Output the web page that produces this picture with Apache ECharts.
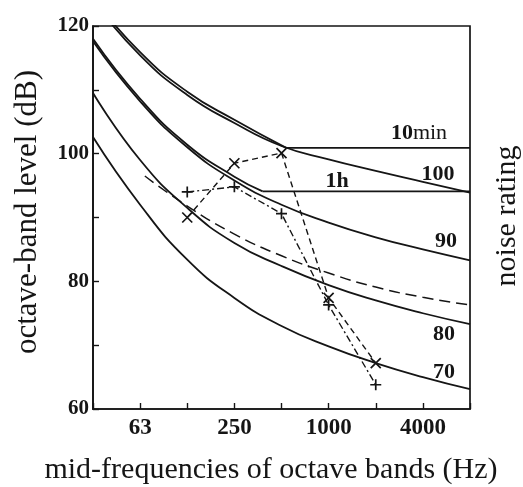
<!DOCTYPE html>
<html><head><meta charset="utf-8">
<script src="https://cdn.jsdelivr.net/npm/echarts@6/dist/echarts.min.js"></script>
<style>html,body{margin:0;padding:0;background:#fff}#c{width:523px;height:487px}</style>
</head><body><div id="c"></div>
<script>
// Octave bands (index on the x axis): 31.5, 63, 125, 250, 500, 1000, 2000, 4000, 8000 Hz
const bandHz = ['31.5', '63', '125', '250', '500', '1000', '2000', '4000', '8000'];
const bandIndex = [0, 1, 2, 3, 4, 5, 6, 7, 8];
const xTickLabels = ['', '63', '', '250', '', '1000', '', '4000', ''];
const yTickLabels = {60: '60', 80: '80', 100: '100', 120: '120'};

// Noise rating curves (dB at each octave band)
const nr70  = [102.6, 92.0, 83.4, 77.4, 73.0, 69.8, 67.2, 65.0, 63.1];
const nr80  = [109.5, 99.0, 91.5, 86.0, 82.4, 79.4, 77.0, 75.0, 73.3];
const nr90  = [117.6, 108.2, 101.0, 95.8, 92.0, 89.2, 86.9, 85.0, 83.3];
const nr100 = [124.0, 115.4, 109.2, 104.8, 101.2, 99.1, 97.3, 95.6, 93.9];

// Exposure-time criteria (curved part, then constant level)
const tenMinLevel = 100.9;
const tenMinX = [0, 1, 2, 3, 4.1];
const tenMinY = [124.4, 115.9, 109.7, 105.3, 100.9];
const oneHourLevel = 94.1;
const oneHourX = [0, 1, 2, 3, 3.6];
const oneHourY = [118.0, 108.6, 101.4, 96.4, 94.1];

// Long-dashed reference curve
const dashX = [1.1, 2, 3, 4, 5, 6, 7, 8];
const dashY = [96.5, 91.8, 87.4, 84.0, 81.3, 79.1, 77.5, 76.3];

// Measured spectra
const measX = [2, 3, 4, 5, 6];
const measCross = [90.0, 98.5, 100.1, 77.4, 67.2];   // x markers, dashed
const measPlus  = [94.0, 94.8, 90.6, 76.3, 63.8];    // + markers, dash-dot

const INK = '#151515';
const SERIF = '"Liberation Serif", "Times New Roman", serif';

function band(ys) { return ys.map((y, i) => [bandIndex[i], y]); }
function pts(xs, ys) { return xs.map((x, i) => [x, ys[i]]); }
function curve(data, extra) {
  return Object.assign({
    type: 'line', data: data, symbol: 'none', smooth: 0.5, silent: true,
    lineStyle: {color: INK, width: 1.8, type: 'solid'}, z: 2
  }, extra || {});
}
const X_PATH = 'path://M0,0L10,10M10,0L0,10';
const PLUS_PATH = 'path://M5,0L5,10M0,5L10,5';
const centered = {align: 'center', verticalAlign: 'middle', textAlign: 'center', textVerticalAlign: 'middle', fill: INK};
function label(text, x, y, font, rot) {
  return {type: 'text', x: x, y: y, rotation: rot || 0, silent: true,
    style: Object.assign({text: text, font: font}, centered)};
}

const chart = echarts.init(document.getElementById('c'), null, {renderer: 'canvas'});
chart.setOption({
  animation: false,
  backgroundColor: '#fff',
  grid: {left: 93, right: 53, top: 26, bottom: 78, show: true, borderColor: INK, borderWidth: 1.7, backgroundColor: 'transparent'},
  xAxis: {
    type: 'value', min: 0, max: 8, interval: 1,
    axisLine: {show: true, lineStyle: {color: INK, width: 1.7}},
    axisTick: {show: true, inside: true, length: 6, lineStyle: {color: INK, width: 1.4}},
    splitLine: {show: false},
    axisLabel: {
      formatter: v => xTickLabels[Math.round(v)] || '',
      fontFamily: SERIF, fontWeight: 'bold', fontSize: 23, color: INK, margin: 8
    }
  },
  yAxis: {
    type: 'value', min: 60, max: 120, interval: 10,
    axisLine: {show: true, lineStyle: {color: INK, width: 1.7}},
    axisTick: {show: true, inside: true, length: 6, lineStyle: {color: INK, width: 1.4}},
    splitLine: {show: false},
    axisLabel: {
      formatter: v => yTickLabels[v] || '',
      fontFamily: SERIF, fontWeight: 'bold', fontSize: 21, color: INK, margin: 4
    }
  },
  series: [
    curve(band(nr70)),
    curve(band(nr80)),
    curve(band(nr90)),
    curve(band(nr100)),
    curve(pts(tenMinX, tenMinY)),
    curve([[tenMinX[tenMinX.length - 1], tenMinLevel], [8, tenMinLevel]], {smooth: false}),
    curve(pts(oneHourX, oneHourY)),
    curve([[oneHourX[oneHourX.length - 1], oneHourLevel], [8, oneHourLevel]], {smooth: false}),
    curve(pts(dashX, dashY), {lineStyle: {color: INK, width: 1.5, type: [11, 6]}}),
    {
      type: 'line', data: pts(measX, measCross), symbol: X_PATH, symbolSize: 10, silent: true, z: 3,
      lineStyle: {color: INK, width: 1.4, type: [6, 4]},
      itemStyle: {color: 'none', borderColor: INK, borderWidth: 1.7}
    },
    {
      type: 'line', data: pts(measX, measPlus), symbol: PLUS_PATH, symbolSize: 11, silent: true, z: 3,
      lineStyle: {color: INK, width: 1.4, type: [7, 3, 2, 3]},
      itemStyle: {color: 'none', borderColor: INK, borderWidth: 1.7}
    }
  ],
  graphic: [
    label('mid-frequencies of octave bands (Hz)', 271, 470, '30px ' + SERIF),
    label('octave-band level (dB)', 28, 212, '31px ' + SERIF, Math.PI / 2),
    label('noise rating', 507, 216, '30px ' + SERIF, Math.PI / 2),
    {type: 'text', x: 419, y: 133, silent: true,
     style: Object.assign({text: '{b|10}{n|min}',
       rich: {b: {fontFamily: SERIF, fontWeight: 'bold', fontSize: 22, fill: INK, color: INK},
              n: {fontFamily: SERIF, fontSize: 22, fill: INK, color: INK}}}, centered)},
    label('100', 438, 174, 'bold 22px ' + SERIF),
    label('1h', 337, 181, 'bold 22px ' + SERIF),
    label('90', 446, 241, 'bold 22px ' + SERIF),
    label('80', 444, 334, 'bold 22px ' + SERIF),
    label('70', 444, 372, 'bold 22px ' + SERIF)
  ]
});
</script>
</body></html>
